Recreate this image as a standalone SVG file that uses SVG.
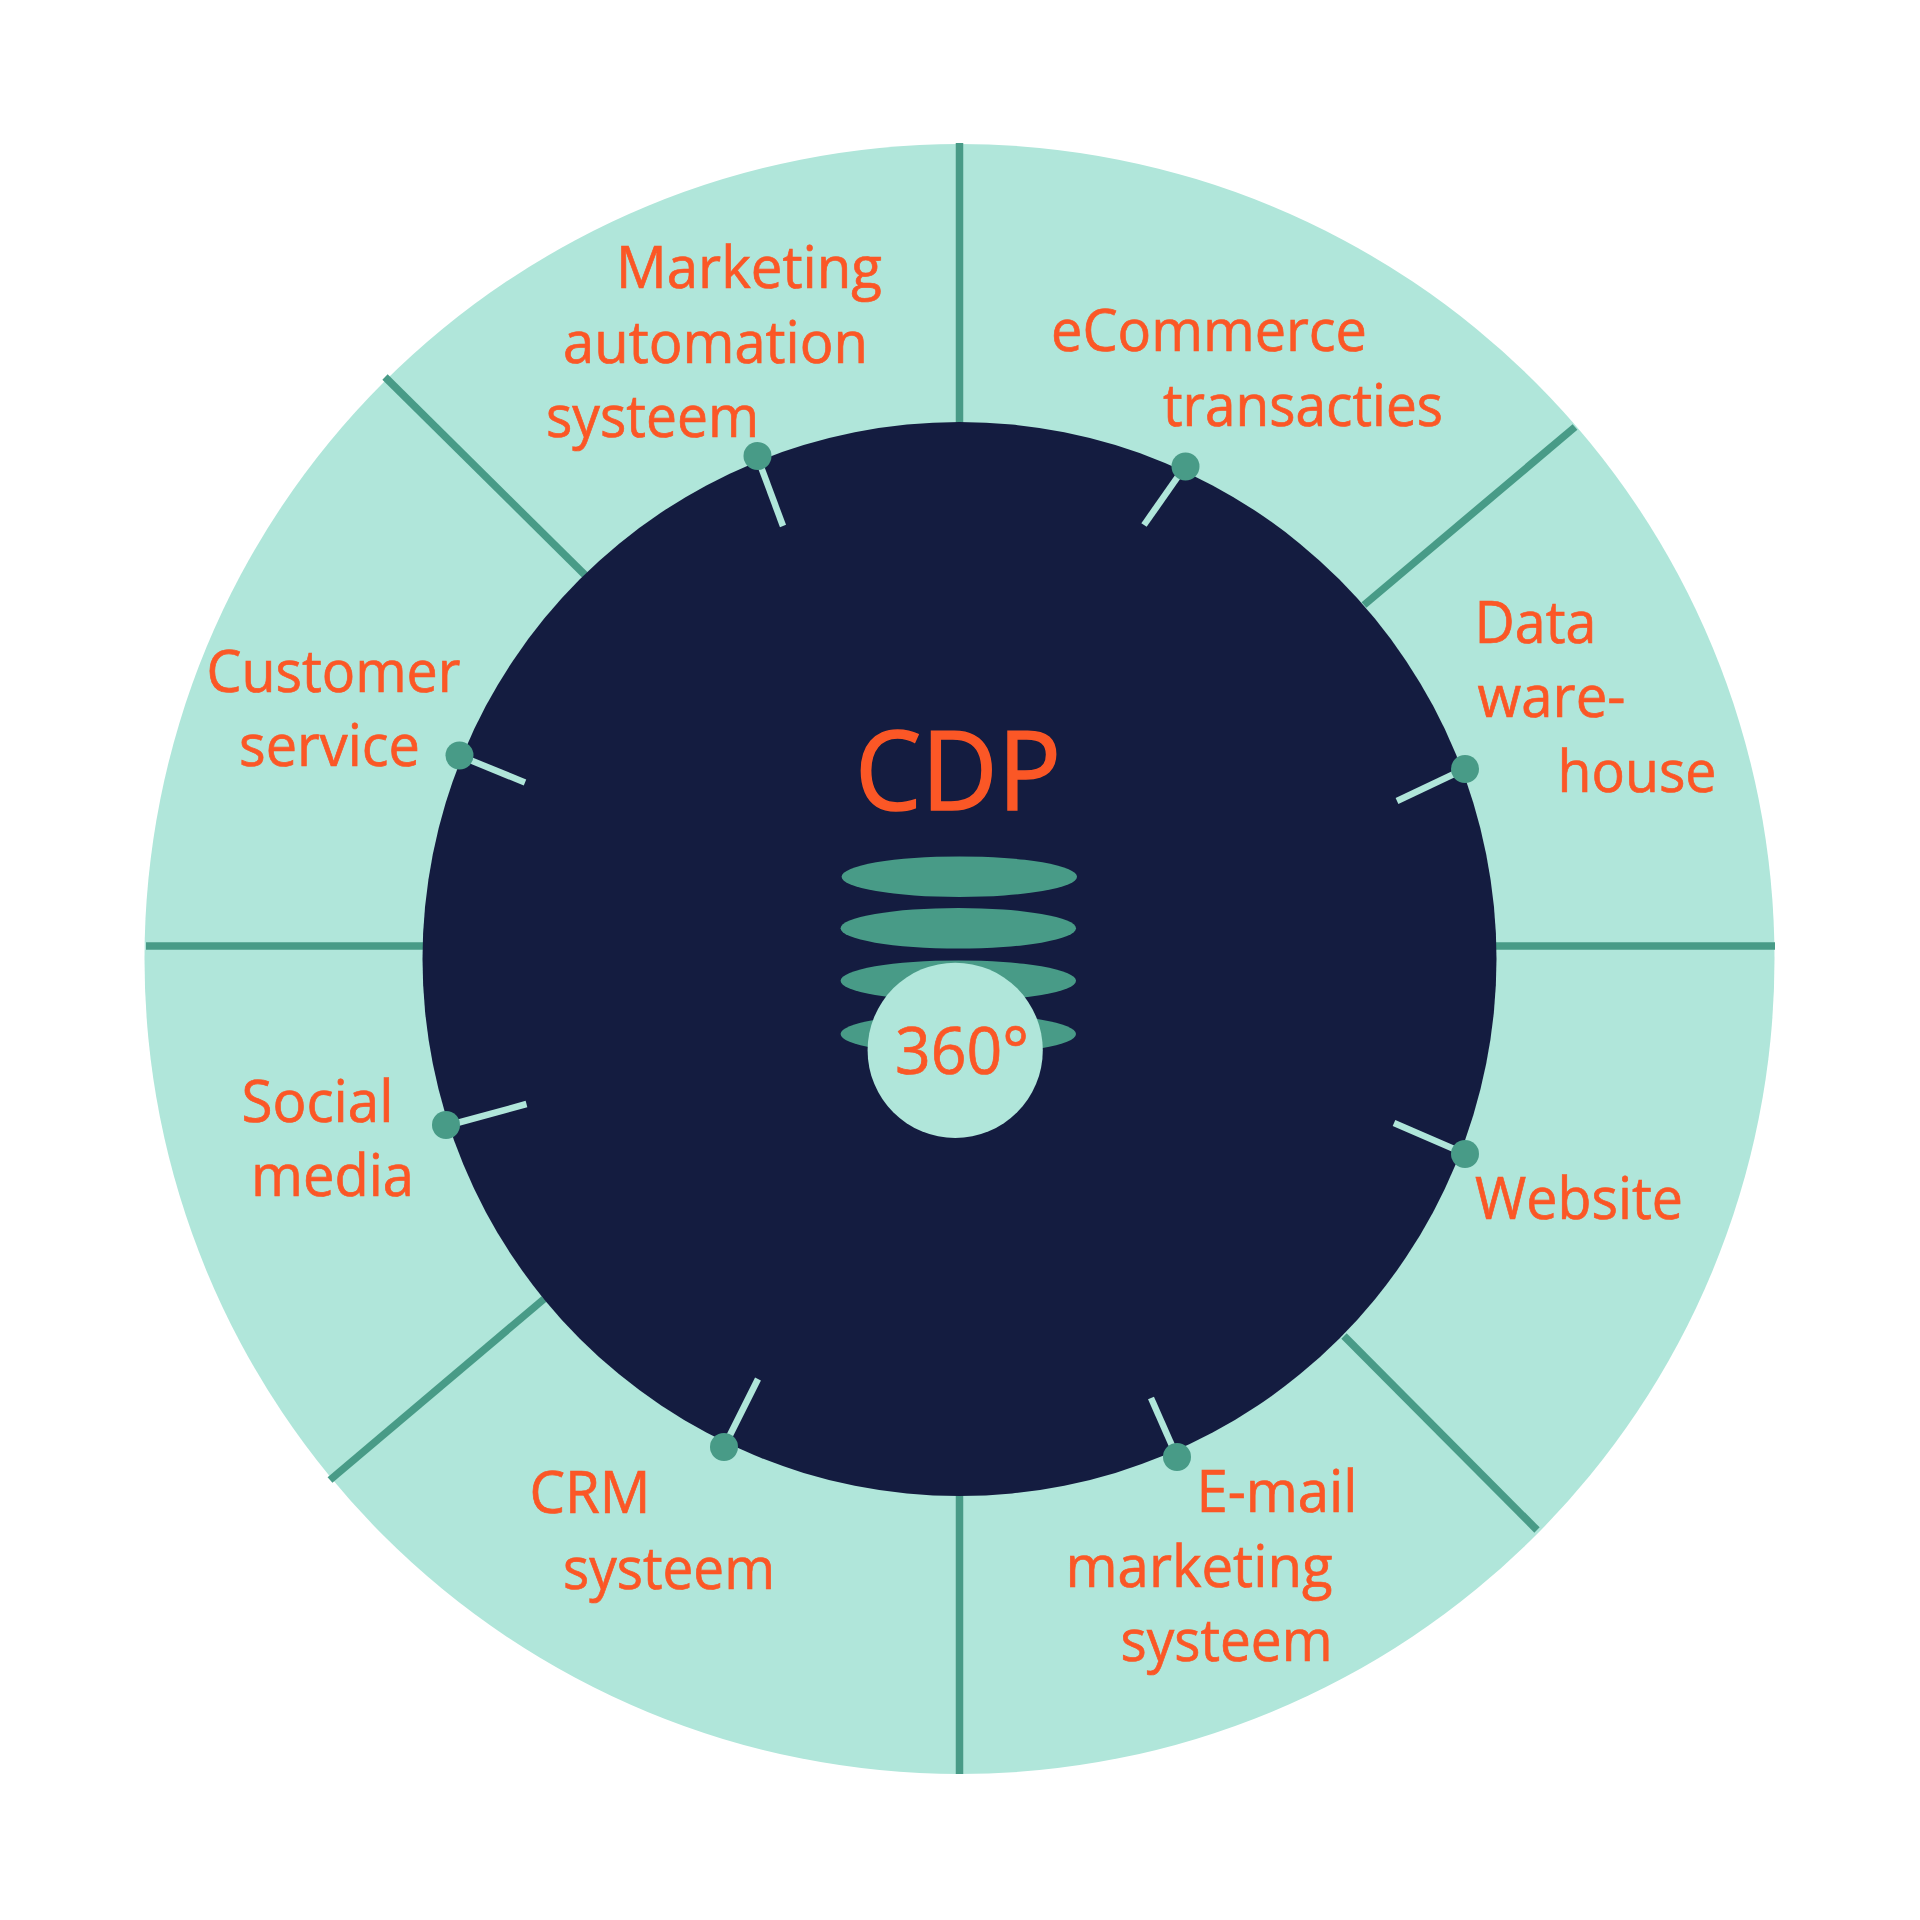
<svg xmlns="http://www.w3.org/2000/svg" width="1920" height="1920" viewBox="0 0 1920 1920">
<style>
text{font-family:"Open Sans","Noto Sans",sans-serif;fill:#FB5726;stroke:#FB5726;stroke-width:0.7px;font-size:59px}
.div{stroke:#489B87;stroke-width:7.5;fill:none}
.tick{stroke:#B0E6DA;stroke-width:6.5;fill:none}
.dot{fill:#489B87}
.disc{fill:#489B87}
</style>
<rect width="1920" height="1920" fill="#FFFFFF"/>
<circle id="outer-ring" cx="959.5" cy="959" r="815" fill="#B0E6DA"/>
<g id="dividers">
<line class="div" x1="959.5" y1="143" x2="959.5" y2="440"/>
<line class="div" x1="959.5" y1="1480" x2="959.5" y2="1774"/>
<line class="div" x1="146" y1="946" x2="440" y2="946"/>
<line class="div" x1="1480" y1="946" x2="1775" y2="946"/>
<line class="div" x1="385" y1="377" x2="585" y2="575"/>
<line class="div" x1="1575" y1="427" x2="1364" y2="605"/>
<line class="div" x1="1537" y1="1530" x2="1344" y2="1336"/>
<line class="div" x1="330" y1="1480" x2="544" y2="1299"/>
</g>
<circle id="inner-circle" cx="959.5" cy="959" r="537" fill="#141C40"/>
<g id="connectors">
<line class="tick" x1="757" y1="456" x2="783" y2="526"/>
<line class="tick" x1="1185" y1="466.5" x2="1144" y2="525"/>
<line class="tick" x1="1464.5" y1="769" x2="1397" y2="801"/>
<line class="tick" x1="1464.5" y1="1153.5" x2="1394" y2="1123"/>
<line class="tick" x1="1177" y1="1457" x2="1151" y2="1398"/>
<line class="tick" x1="724" y1="1447" x2="758" y2="1379"/>
<line class="tick" x1="446" y1="1126" x2="526.5" y2="1104"/>
<line class="tick" x1="459" y1="755.5" x2="525" y2="782.5"/>
</g>
<g id="node-marketing-automation">
<circle class="dot" cx="757.5" cy="456" r="14"/>
<text x="616" y="288" textLength="266" lengthAdjust="spacingAndGlyphs">Marketing</text>
<text x="563" y="363" textLength="305" lengthAdjust="spacingAndGlyphs">automation</text>
<text x="546" y="437" textLength="213" lengthAdjust="spacingAndGlyphs">systeem</text>
</g>
<g id="node-ecommerce">
<circle class="dot" cx="1185.5" cy="466.5" r="14"/>
<text x="1051" y="351" textLength="316" lengthAdjust="spacingAndGlyphs">eCommerce</text>
<text x="1163" y="426" textLength="280" lengthAdjust="spacingAndGlyphs">transacties</text>
</g>
<g id="node-data-warehouse">
<circle class="dot" cx="1465" cy="769" r="14"/>
<text x="1474.5" y="643" textLength="122" lengthAdjust="spacingAndGlyphs">Data</text>
<text x="1477.5" y="717" textLength="148" lengthAdjust="spacingAndGlyphs">ware-</text>
<text x="1557.5" y="792" textLength="159" lengthAdjust="spacingAndGlyphs">house</text>
</g>
<g id="node-website">
<circle class="dot" cx="1465" cy="1154" r="14"/>
<text x="1475" y="1219" textLength="208" lengthAdjust="spacingAndGlyphs">Website</text>
</g>
<g id="node-email-marketing">
<circle class="dot" cx="1177" cy="1457" r="14"/>
<text x="1196.5" y="1512" textLength="161" lengthAdjust="spacingAndGlyphs">E-mail</text>
<text x="1065.5" y="1587" textLength="267" lengthAdjust="spacingAndGlyphs">marketing</text>
<text x="1120.5" y="1661" textLength="212" lengthAdjust="spacingAndGlyphs">systeem</text>
</g>
<g id="node-crm">
<circle class="dot" cx="724" cy="1447" r="14"/>
<text x="529.5" y="1513" textLength="121" lengthAdjust="spacingAndGlyphs">CRM</text>
<text x="563" y="1589" textLength="212" lengthAdjust="spacingAndGlyphs">systeem</text>
</g>
<g id="node-social-media">
<circle class="dot" cx="446" cy="1125" r="14"/>
<text x="241.5" y="1122" textLength="152" lengthAdjust="spacingAndGlyphs">Social</text>
<text x="251" y="1196" textLength="163" lengthAdjust="spacingAndGlyphs">media</text>
</g>
<g id="node-customer-service">
<circle class="dot" cx="459.5" cy="755.5" r="14"/>
<text x="206.5" y="692" textLength="254" lengthAdjust="spacingAndGlyphs">Customer</text>
<text x="239" y="766" textLength="181" lengthAdjust="spacingAndGlyphs">service</text>
</g>
<g id="node-cdp">
<text x="855" y="810" textLength="206" lengthAdjust="spacingAndGlyphs" style="font-size:110px;stroke-width:1.6px">CDP</text>
<ellipse class="disc" cx="959.3" cy="876.7" rx="117.7" ry="20.3"/>
<ellipse class="disc" cx="958.3" cy="928.3" rx="117.7" ry="20.3"/>
<ellipse class="disc" cx="958.3" cy="980.7" rx="117.7" ry="20.3"/>
<ellipse class="disc" cx="958.3" cy="1034" rx="117.7" ry="20.3"/>
<circle cx="955.2" cy="1050.3" r="87.6" fill="#B0E6DA"/>
<text x="895" y="1074" textLength="134" lengthAdjust="spacingAndGlyphs" style="font-size:65px">360°</text>
</g>
</svg>
